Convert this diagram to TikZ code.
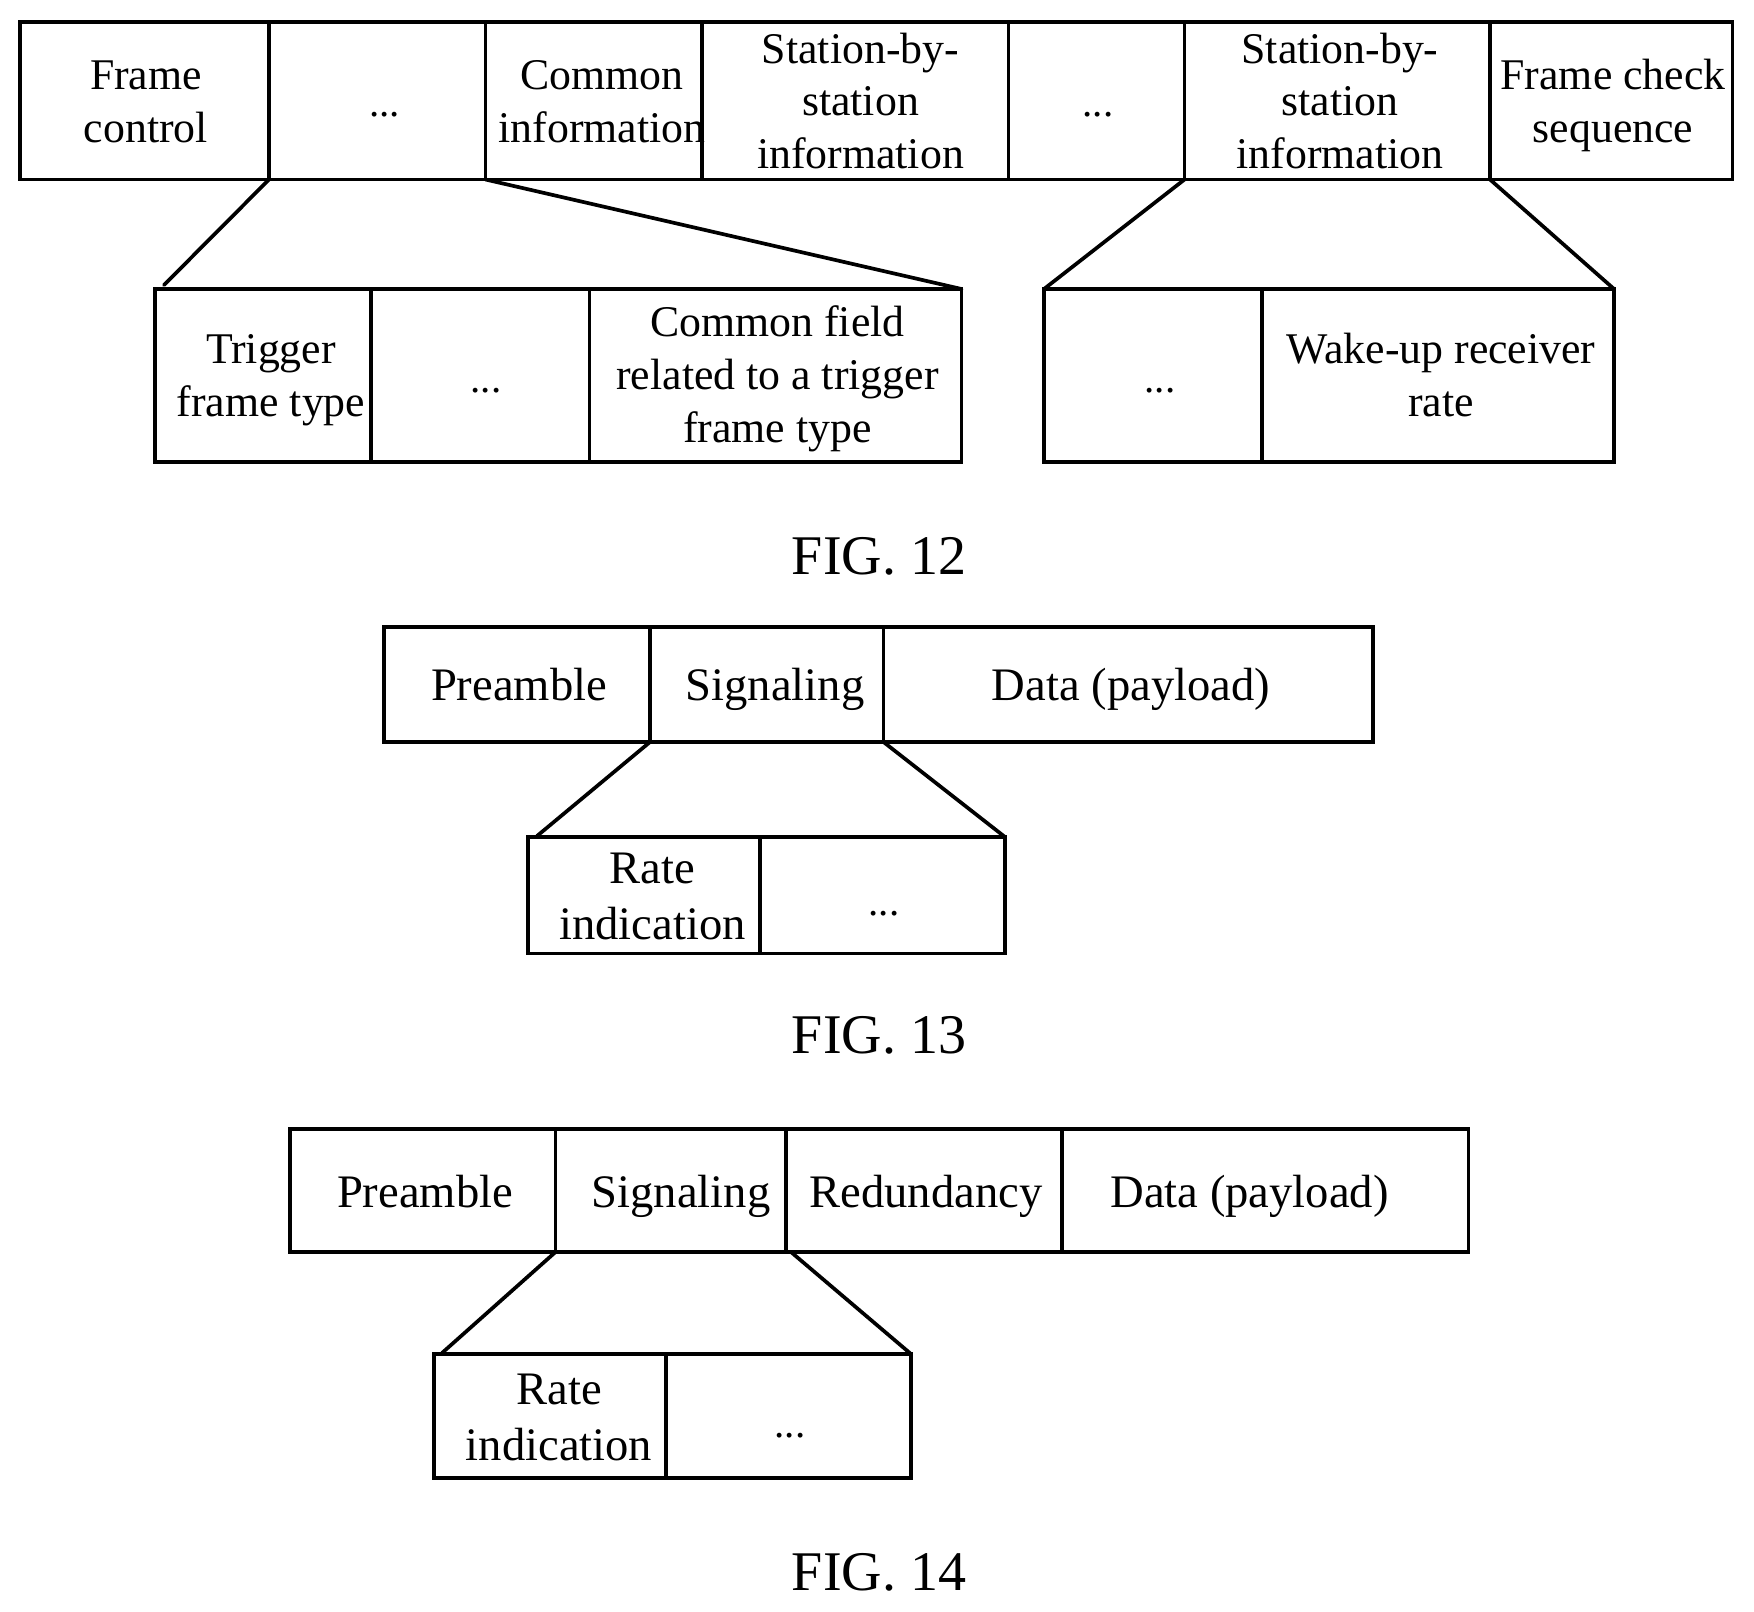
\documentclass[tikz,border=0pt]{standalone}
\usepackage{fontspec}
\setmainfont{Liberation Serif}
\tikzset{
  x=0.5pt,y=-0.5pt,
  cellbox/.style={draw=black,line width=1.85pt,inner sep=0pt,outer sep=0pt,line join=miter},
  celltext/.style={anchor=base,inner sep=0pt,outer sep=0pt,align=center,font=\fontsize{23.3pt}{26.5pt}\selectfont},
  toptext/.style={celltext,font=\fontsize{21.9pt}{26.5pt}\selectfont},
  stationtext/.style={celltext,font=\fontsize{21.9pt}{26pt}\selectfont},
  dotstext/.style={celltext,font=\fontsize{20.5pt}{26pt}\selectfont},
  ratetext/.style={celltext,font=\fontsize{23.3pt}{28pt}\selectfont},
  figlabel/.style={anchor=base,inner sep=0pt,outer sep=0pt,font=\fontsize{28pt}{32pt}\selectfont},
  zoomline/.style={draw=black,line width=1.85pt,line cap=round}
}
\newcommand{\cellnode}[5]{%
  \pgfmathsetmacro{\cellw}{(#3-#2)*0.5}%
  \pgfmathsetmacro{\cellh}{(#5-#4)*0.5}%
  \pgfmathsetmacro{\cellx}{(#2+#3)/2}%
  \pgfmathsetmacro{\celly}{(#4+#5)/2}%
  \node[cellbox,minimum width=\cellw pt,minimum height=\cellh pt] (#1) at (\cellx,\celly) {};
}
\begin{document}
\begin{tikzpicture}
\useasboundingbox (0,0) rectangle (1754,1611);
% FIG. 12 top row
\cellnode{a1}{20}{269}{22}{179.5}
\cellnode{a2}{269}{485.5}{22}{179.5}
\cellnode{a3}{485.5}{702}{22}{179.5}
\cellnode{a4}{702}{1008.5}{22}{179.5}
\cellnode{a5}{1008.5}{1184.5}{22}{179.5}
\cellnode{a6}{1184.5}{1490}{22}{179.5}
\cellnode{a7}{1490}{1732.5}{22}{179.5}
% FIG. 12 lower rows
\cellnode{b1}{155}{371}{289}{462}
\cellnode{b2}{371}{589.5}{289}{462}
\cellnode{b3}{589.5}{961.5}{289}{462}
\cellnode{c1}{1044}{1262}{289}{462}
\cellnode{c2}{1262}{1614}{289}{462}
% FIG. 13
\cellnode{d1}{384}{650}{627}{742}
\cellnode{d2}{650}{883.5}{627}{742}
\cellnode{d3}{883.5}{1373}{627}{742}
\cellnode{e1}{528}{760}{837}{953.5}
\cellnode{e2}{760}{1005}{837}{953.5}
% FIG. 14
\cellnode{f1}{290}{555.5}{1129}{1252}
\cellnode{f2}{555.5}{786}{1129}{1252}
\cellnode{f3}{786}{1062}{1129}{1252}
\cellnode{f4}{1062}{1468.5}{1129}{1252}
\cellnode{g1}{434}{666}{1354}{1478}
\cellnode{g2}{666}{911}{1354}{1478}
% texts (the base anchor of a multi-line node is its last line)
\node[toptext] (ta1) at (146,142) {Frame\\control};
\node[dotstext] (ta2) at (384.5,117) {...};
\node[toptext] (ta3) at (602,142) {Common\\information};
\node[stationtext] (ta4) at (860.5,168) {Station-by-\\station\\information};
\node[dotstext] (ta5) at (1098,117) {...};
\node[stationtext] (ta6) at (1340,168) {Station-by-\\station\\information};
\node[toptext] (ta7) at (1613,142) {Frame check\\sequence};
\node[toptext] (tb1) at (271,416.5) {Trigger\\frame type};
\node[dotstext] (tb2) at (486,392) {...};
\node[toptext] (tb3) at (777.5,442.5) {Common field\\related to a trigger\\frame type};
\node[dotstext] (tc1) at (1160,392) {...};
\node[toptext] (tc2) at (1441,416.5) {Wake-up receiver\\rate};
\node[figlabel] (fig12) at (879,574.5) {FIG. 12};
\node[celltext] (td1) at (519,700) {Preamble};
\node[celltext] (td2) at (775,700) {Signaling};
\node[celltext] (td3) at (1131,700) {Data (payload)};
\node[ratetext] (te1) at (652.5,939) {Rate\\indication};
\node[dotstext] (te2) at (884,915) {...};
\node[figlabel] (fig13) at (879,1053.5) {FIG. 13};
\node[celltext] (tf1) at (425,1207.5) {Preamble};
\node[celltext] (tf2) at (681,1207.5) {Signaling};
\node[celltext] (tf3) at (926,1207.5) {Redundancy};
\node[celltext] (tf4) at (1249.5,1207.5) {Data (payload)};
\node[ratetext] (tg1) at (559,1460.5) {Rate\\indication};
\node[dotstext] (tg2) at (790,1437) {...};
\node[figlabel] (fig14) at (879,1590.5) {FIG. 14};
% connectors
\coordinate (b1end) at (164,285);
\coordinate (e1end) at (537,836);
\coordinate (g1end) at (442,1353);
\coordinate (f2out) at (791,1252);
\draw[zoomline] (a2.south west) -- (b1end);
\draw[zoomline] (a2.south east) -- (b3.north east);
\draw[zoomline] (a6.south west) -- (c1.north west);
\draw[zoomline] (a6.south east) -- (c2.north east);
\draw[zoomline] (d2.south west) -- (e1end);
\draw[zoomline] (d2.south east) -- (e2.north east);
\draw[zoomline] (f2.south west) -- (g1end);
\draw[zoomline] (f2out) -- (g2.north east);
\end{tikzpicture}
\end{document}
